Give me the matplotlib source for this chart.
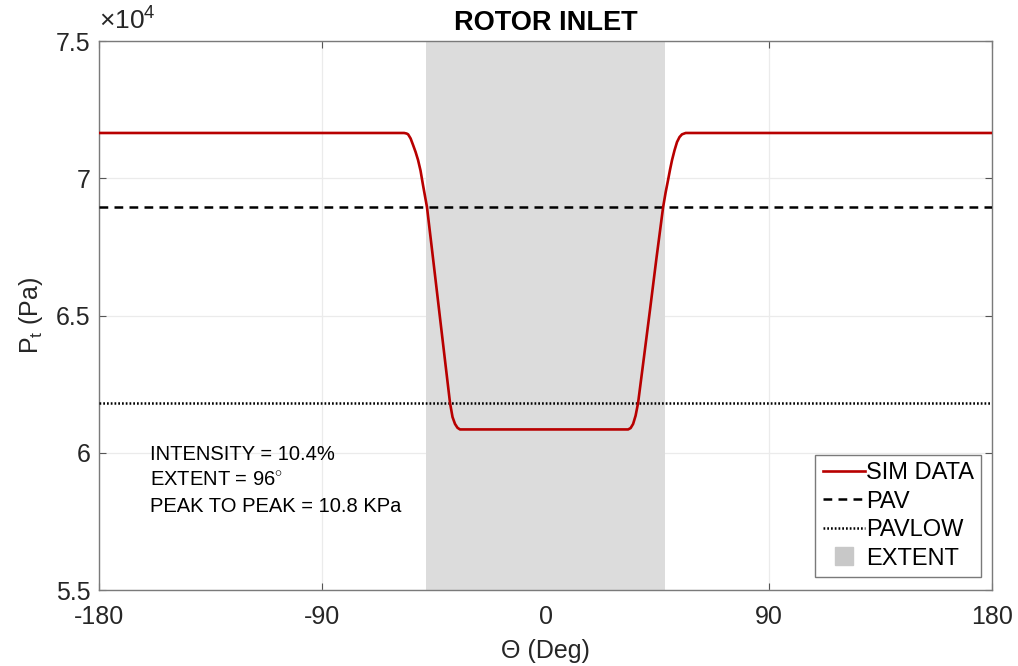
import matplotlib.pyplot as plt
from matplotlib.lines import Line2D
from matplotlib.ticker import FuncFormatter

plt.rc('font', family=['Liberation Sans', 'DejaVu Sans'])
plt.rc('mathtext', fontset='custom', rm='Liberation Sans', it='Liberation Sans')
plt.rc('axes', unicode_minus=False)

# data
theta = [-180, -57, -56, -55.4, -54.4, -53.4, -52.4, -51.4, -50.4, -49.4,
         -47.8, -45.8, -43.8, -42.1, -40.5, -38.5, -37.5, -36.5, -35.5,
         -34.5, -33, 32, 33.3, 34.3, 35.3, 36.3, 37.3, 39.7, 42.1, 44.7,
         47.4, 48.4, 49.4, 50.2, 51.0, 52.0, 53.0, 54.0, 55.0, 56.5, 180]
pt = [71650, 71650, 71630, 71600, 71450, 71210, 70960, 70665, 70280, 69750,
      68950, 67420, 65880, 64570, 63340, 61810, 61300, 61050, 60910, 60850,
      60850, 60850, 60850, 60900, 61050, 61350, 61810, 63500, 65200, 67080,
      68950, 69480, 69940, 70320, 70665, 71020, 71320, 71500, 71600, 71650,
      71650]
pav = 68950
pavlow = 61830
extent = [-48, 48]
notes = ["INTENSITY = 10.4%", r"EXTENT = 96$^{\circ}$",
         "PEAK TO PEAK = 10.8 KPa"]
note_y = [59920, 59010, 58030]

red = '#b80000'

fig = plt.figure(figsize=(10.18, 6.66), dpi=100)
ax = fig.add_axes([0.0973, 0.1141, 0.8772, 0.8243])

ax.axvspan(extent[0], extent[1], color='#dcdcdc', lw=0, zorder=1)
ax.plot(theta, pt, color=red, lw=1.9, zorder=4)
ax.axhline(pav, color='black', ls=(0, (3.5, 2.5)), lw=1.8, zorder=3)
ax.axhline(pavlow, color='black', ls=(0, (0.7, 0.8)), lw=1.8, zorder=3)

for s, y in zip(notes, note_y):
    ax.text(-159.5, y, s, fontsize=14.5, va='center', ha='left')

ax.set_xlim(-180, 180)
ax.set_ylim(55000, 75000)
ax.set_xticks([-180, -90, 0, 90, 180])
ax.set_yticks([55000, 60000, 65000, 70000, 75000])
ax.yaxis.set_major_formatter(FuncFormatter(lambda v, p: f"{v / 1e4:g}"))
ax.tick_params(direction='in', labelsize=18, colors='#555555',
               labelcolor='#262626', top=True, right=True, length=5)
ax.tick_params(axis='x', pad=11)
ax.tick_params(axis='y', pad=6)
ax.grid(True, color='#ebebeb', lw=0.9)
ax.set_axisbelow(True)
for sp in ax.spines.values():
    sp.set_color('#7a7a7a')
    sp.set_linewidth(1.0)

ax.text(0.0, 1.012, r"$\times$10$^4$", transform=ax.transAxes, fontsize=19,
        color='#262626', ha='left', va='bottom')
ax.set_title("ROTOR INLET", fontsize=19.5, fontweight='bold', pad=8)
ax.set_xlabel("\u0398 (Deg)", fontsize=18, labelpad=7, color='#262626')
ax.set_ylabel("P$_t$ (Pa)", fontsize=18, labelpad=8, color='#262626')

handles = [Line2D([], [], color=red, lw=1.9),
           Line2D([], [], color='black', ls=(0, (3.5, 2.5)), lw=1.8),
           Line2D([], [], color='black', ls=(0, (0.7, 0.8)), lw=1.8),
           Line2D([], [], color='#c8c8c8', marker='s', ls='none',
                  markersize=13)]
leg = ax.legend(handles, ["SIM DATA", "PAV", "PAVLOW", "EXTENT"],
                loc='lower right', fontsize=17, handlelength=1.8,
                handletextpad=0.05, borderpad=0.3, labelspacing=0.28,
                borderaxespad=0.0, fancybox=False, framealpha=1,
                bbox_to_anchor=(0.988, 0.024))
leg.get_frame().set_edgecolor('#7a7a7a')
leg.get_frame().set_linewidth(1.0)

plt.savefig("out.png", dpi=100)
